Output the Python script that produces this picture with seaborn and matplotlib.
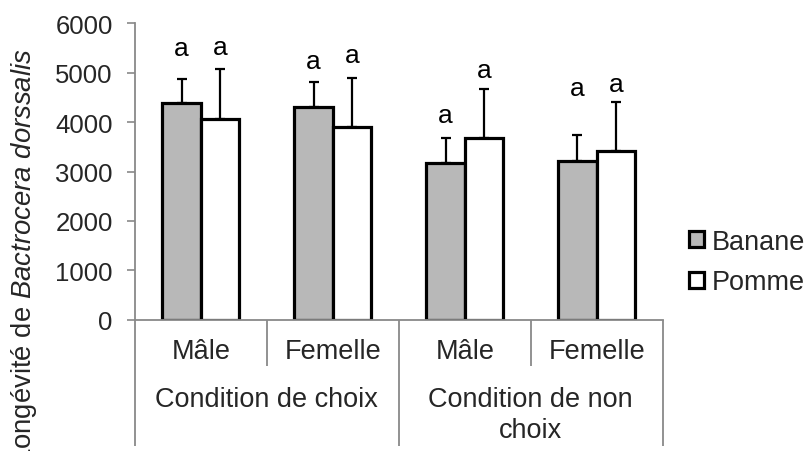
import matplotlib
matplotlib.use("Agg")
import matplotlib.pyplot as plt
import seaborn as sns
import pandas as pd
from matplotlib.patches import Patch

# ---- data ----
conditions = ["Condition de choix", "Condition de non\nchoix"]
sexes = ["Mâle", "Femelle"]
groups = ["choix-Mâle", "choix-Femelle", "nonchoix-Mâle", "nonchoix-Femelle"]
group_labels = ["Mâle", "Femelle", "Mâle", "Femelle"]
fruits = ["Banane", "Pomme"]
banane = [4380, 4310, 3175, 3220]
banane_err = [490, 495, 510, 510]
pomme = [4070, 3895, 3675, 3410]
pomme_err = [1015, 990, 990, 995]
letters_banane = ["a", "a", "a", "a"]
letters_pomme = ["a", "a", "a", "a"]
y_ticks = [0, 1000, 2000, 3000, 4000, 5000, 6000]

# letter placement above the error bar tops (data units)
offset_banane = [480, 300, 320, 820]
offset_pomme = [290, 330, 250, 220]

sns.set_style("white")
plt.rcParams["font.family"] = ["Liberation Sans", "DejaVu Sans"]
plt.rcParams["mathtext.fontset"] = "custom"
plt.rcParams["mathtext.rm"] = "Liberation Sans"
plt.rcParams["mathtext.it"] = "Liberation Sans:italic"

df = pd.DataFrame({
    "group": groups * 2,
    "fruit": [fruits[0]] * 4 + [fruits[1]] * 4,
    "value": banane + pomme,
})

fig = plt.figure(figsize=(8.08, 4.52), dpi=100)
ax = fig.add_axes([135 / 808, 1 - 320.7 / 452, (662.7 - 135) / 808, (320.7 - 24.3) / 452])

colors = {"Banane": "#B8B8B8", "Pomme": "#FFFFFF"}
sns.barplot(data=df, x="group", y="value", hue="fruit", order=groups,
            hue_order=fruits, palette=colors, errorbar=None, width=0.584,
            gap=0, edgecolor="black", linewidth=2.3, legend=False, ax=ax)

# error bars and letters from bar geometry
bars = sorted(ax.patches, key=lambda p: p.get_x())
vals, errs, letters, offs = [], [], [], []
for i in range(4):
    vals += [banane[i], pomme[i]]
    errs += [banane_err[i], pomme_err[i]]
    letters += [letters_banane[i], letters_pomme[i]]
    offs += [offset_banane[i], offset_pomme[i]]
xs = [b.get_x() + b.get_width() / 2 for b in bars]
ax.errorbar(xs, vals, yerr=[[0] * len(vals), errs], fmt="none", ecolor="black",
            elinewidth=1.6, capsize=3.6, capthick=1.6, zorder=1)
for x, v, e, l, o in zip(xs, vals, errs, letters, offs):
    ax.text(x, v + e + o, l, ha="center", va="baseline", fontsize=19, color="black")

ax.set_xlim(-0.5, 3.5)
ax.set_ylim(0, 6000)
ax.set_yticks(y_ticks)
ax.set_yticklabels([str(t) for t in y_ticks], fontsize=18.5)
ax.set_xticks([])
ax.set_xlabel("")
ax.set_ylabel("")
ax.tick_params(axis="y", direction="out", length=6, width=1.2, color="#898989",
               pad=10, left=True)
for s in ["top", "right"]:
    ax.spines[s].set_visible(False)
gray = "#898989"
ax.spines["left"].set_color(gray)
ax.spines["left"].set_linewidth(1.3)
ax.spines["bottom"].set_color(gray)
ax.spines["bottom"].set_linewidth(1.3)

# multi-level category axis
tr = ax.get_xaxis_transform()
short = -(367 - 320.7) / 296.4
long_ = -(446.7 - 320.7) / 296.4
for xline, yb in [(-0.5, long_), (0.5, short), (1.5, long_), (2.5, short), (3.5, long_)]:
    ax.plot([xline, xline], [0, yb], transform=tr, color=gray, lw=1.3,
            clip_on=False, solid_capstyle="butt")
for i, lab in enumerate(group_labels):
    ax.text(i, -(352 - 320.7) / 296.4, lab, transform=tr, ha="center",
            va="center", fontsize=19.5)
ax.text(0.5, -(400 - 320.7) / 296.4, conditions[0], transform=tr, ha="center",
        va="center", fontsize=19.5)
ax.text(2.5, -(387 - 320.7) / 296.4, conditions[1], transform=tr, ha="center",
        va="top", fontsize=19.5, linespacing=1.25)

# y label
fig.text(24 / 808, 1 - 48 / 452, "Longévité de $\\it{Bactrocera\\ dorssalis}$",
         rotation=90, ha="center", va="top", fontsize=19.8)

# legend
handles = [Patch(facecolor=colors[f], edgecolor="black", linewidth=2.3, label=f)
           for f in fruits]
fig.legend(handles=handles, loc="center left",
           bbox_to_anchor=(689 / 808, 1 - 263 / 452), frameon=False,
           fontsize=19.5, handlelength=0.55, handleheight=0.55, handletextpad=0.3,
           labelspacing=0.55, borderpad=0, borderaxespad=0)

fig.savefig("out.png", dpi=100)
